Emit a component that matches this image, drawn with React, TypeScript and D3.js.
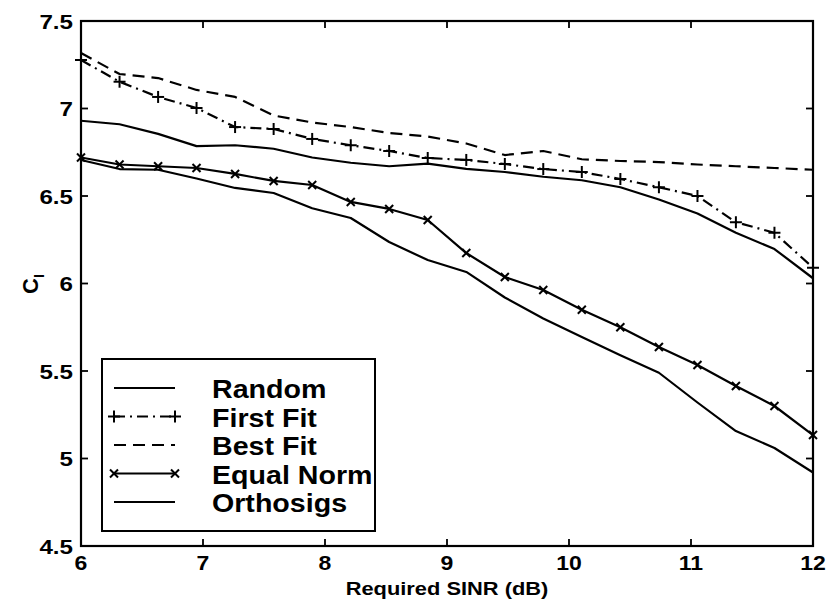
import React from "react";
import * as d3 from "d3";

const sinr = [6, 6.316, 6.632, 6.947, 7.263, 7.579, 7.895, 8.211, 8.526, 8.842, 9.158, 9.474, 9.789, 10.105, 10.421, 10.737, 11.053, 11.368, 11.684, 12];
const random = [6.93, 6.91, 6.855, 6.785, 6.79, 6.77, 6.72, 6.69, 6.67, 6.685, 6.655, 6.637, 6.61, 6.59, 6.55, 6.48, 6.40, 6.29, 6.197, 6.03];
const firstFit = [7.277, 7.153, 7.066, 7.003, 6.894, 6.883, 6.826, 6.79, 6.757, 6.717, 6.706, 6.683, 6.654, 6.637, 6.597, 6.55, 6.50, 6.35, 6.29, 6.09];
const bestFit = [7.317, 7.197, 7.174, 7.106, 7.066, 6.96, 6.92, 6.894, 6.86, 6.84, 6.80, 6.734, 6.757, 6.71, 6.70, 6.694, 6.68, 6.67, 6.66, 6.65];
const equalNorm = [6.72, 6.68, 6.67, 6.66, 6.626, 6.586, 6.563, 6.466, 6.426, 6.363, 6.174, 6.037, 5.963, 5.85, 5.75, 5.637, 5.534, 5.414, 5.30, 5.134];
const orthosigs = [6.706, 6.654, 6.65, 6.60, 6.546, 6.517, 6.43, 6.374, 6.237, 6.134, 6.066, 5.92, 5.80, 5.694, 5.59, 5.49, 5.32, 5.157, 5.06, 4.92];

const xTicks = [6, 7, 8, 9, 10, 11, 12];
const yTicks = [4.5, 5, 5.5, 6, 6.5, 7, 7.5];
const legendLabels = ["Random", "First Fit", "Best Fit", "Equal Norm", "Orthosigs"];

type Series = { name: string; values: number[]; dash?: string; marker?: "plus" | "cross" };
const series: Series[] = [
  { name: legendLabels[0], values: random },
  { name: legendLabels[1], values: firstFit, dash: "11,5,2,5", marker: "plus" },
  { name: legendLabels[2], values: bestFit, dash: "12,7" },
  { name: legendLabels[3], values: equalNorm, marker: "cross" },
  { name: legendLabels[4], values: orthosigs },
];

const FONT = "'Liberation Sans', Arial, Helvetica, sans-serif";

function STxt({ x, y, children, size, anchor = "start", sx = 1.15 }: any) {
  return (
    <text
      transform={`translate(${x},${y}) scale(${sx},1)`}
      fontFamily={FONT}
      fontWeight="bold"
      fontSize={size}
      textAnchor={anchor}
      dominantBaseline="central"
      fill="#000"
    >
      {children}
    </text>
  );
}

function Marker({ type, x, y }: { type?: string; x: number; y: number }) {
  if (type === "plus") {
    return (
      <g stroke="#000" strokeWidth={2}>
        <line x1={x - 6} x2={x + 6} y1={y} y2={y} />
        <line x1={x} x2={x} y1={y - 6} y2={y + 6} />
      </g>
    );
  }
  if (type === "cross") {
    return (
      <g stroke="#000" strokeWidth={2}>
        <line x1={x - 4} x2={x + 4} y1={y - 4} y2={y + 4} />
        <line x1={x - 4} x2={x + 4} y1={y + 4} y2={y - 4} />
      </g>
    );
  }
  return null;
}

export default function App() {
  const W = 828, H = 599;
  const L = 81, R = 813, T = 21, B = 546;
  const x = d3.scaleLinear().domain([6, 12]).range([L, R]);
  const y = d3.scaleLinear().domain([4.5, 7.5]).range([B, T]);
  const line = d3.line<number>().x((_, i) => x(sinr[i])).y((d) => y(d));
  const tl = 7;

  const legX = 102, legY = 359, legW = 273, legH = 172;
  const rowY = (i: number) => 388 + i * 28.5;

  return (
    <svg width={W} height={H} style={{ position: "absolute", left: 0, top: 0, background: "#fff" }}>
      <rect x={0} y={0} width={W} height={H} fill="#fff" />
      {series.map((s) => (
        <g key={s.name}>
          <path d={line(s.values) || ""} fill="none" stroke="#000" strokeWidth={2.2} strokeDasharray={s.dash} strokeLinejoin="round" />
          {s.marker && s.values.map((v, i) => <Marker key={i} type={s.marker} x={x(sinr[i])} y={y(v)} />)}
        </g>
      ))}
      {/* frame */}
      <rect x={L} y={T} width={R - L} height={B - T} fill="none" stroke="#000" strokeWidth={2.2} />
      {xTicks.map((t) => (
        <g key={"x" + t} stroke="#000" strokeWidth={1.8}>
          <line x1={x(t)} x2={x(t)} y1={B} y2={B - tl} />
          <line x1={x(t)} x2={x(t)} y1={T} y2={T + tl} />
        </g>
      ))}
      {yTicks.map((t) => (
        <g key={"y" + t} stroke="#000" strokeWidth={1.8}>
          <line x1={L} x2={L + tl} y1={y(t)} y2={y(t)} />
          <line x1={R} x2={R - tl} y1={y(t)} y2={y(t)} />
        </g>
      ))}
      {xTicks.map((t) => (
        <STxt key={"xl" + t} x={x(t)} y={563} size={20} anchor="middle">{String(t)}</STxt>
      ))}
      {yTicks.map((t) => (
        <STxt key={"yl" + t} x={73} y={y(t) + 1} size={21} anchor="end">{String(t)}</STxt>
      ))}
      <STxt x={447} y={588} size={19} anchor="middle">Required SINR (dB)</STxt>
      <text transform={`translate(38,284) rotate(-90)`} fontFamily={FONT} fontWeight="bold" fontSize={22} textAnchor="middle" fill="#000">
        C<tspan fontSize={14} dy={6}>I</tspan>
      </text>
      {/* legend */}
      <rect x={legX} y={legY} width={legW} height={legH} fill="#fff" stroke="#000" strokeWidth={2} />
      {series.map((s, i) => (
        <g key={"lg" + s.name}>
          <line x1={114} x2={175} y1={rowY(i)} y2={rowY(i)} stroke="#000" strokeWidth={2.2} strokeDasharray={s.dash} />
          {s.marker && <Marker type={s.marker} x={114} y={rowY(i)} />}
          {s.marker && <Marker type={s.marker} x={175} y={rowY(i)} />}
          <STxt x={212} y={rowY(i) + 1} size={26} sx={1.1}>{s.name}</STxt>
        </g>
      ))}
    </svg>
  );
}
